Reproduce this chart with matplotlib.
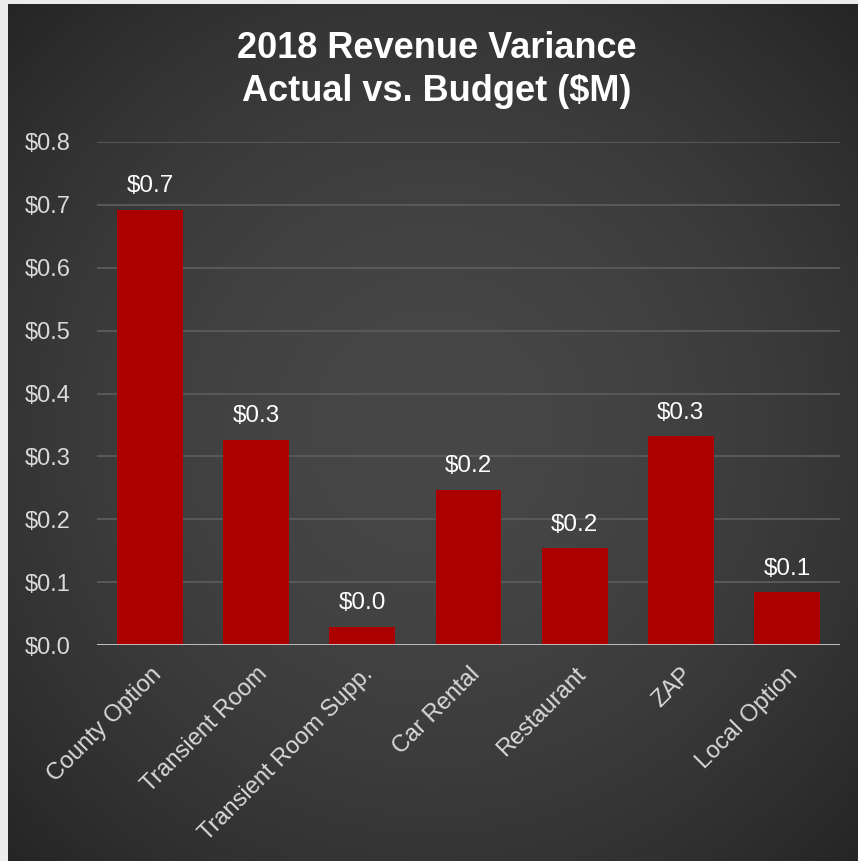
import numpy as np
import matplotlib
matplotlib.use("Agg")
import matplotlib.pyplot as plt
from matplotlib import font_manager

categories = ["County Option", "Transient Room", "Transient Room Supp.",
              "Car Rental", "Restaurant", "ZAP", "Local Option"]
variance = [0.692, 0.326, 0.029, 0.247, 0.154, 0.332, 0.084]
yticks = [0.0, 0.1, 0.2, 0.3, 0.4, 0.5, 0.6, 0.7, 0.8]

names = {f.name for f in font_manager.fontManager.ttflist}
body = "Liberation Sans" if "Liberation Sans" in names else "DejaVu Sans"
narrow = "Liberation Sans Narrow" if "Liberation Sans Narrow" in names else body
plt.rcParams["font.family"] = [body, "DejaVu Sans"]

W, H = 858, 861
fig = plt.figure(figsize=(W / 100, H / 100), dpi=100, facecolor="#ececec")

# dark radial-gradient background panel
bg = fig.add_axes([8 / W, 0, (W - 8) / W, (H - 4) / H])
yy, xx = np.mgrid[0:1:400j, 0:1:400j]
r = np.sqrt((xx - 0.5) ** 2 + (yy - 0.5) ** 2) / np.sqrt(0.5)
shade = (0x47 - (0x47 - 0x25) * r ** 1.8) / 255.0
bg.imshow(np.dstack([shade] * 3), aspect="auto", extent=[0, 1, 0, 1])
bg.set_axis_off()

ax = fig.add_axes([97 / W, (H - 645) / H, (840 - 97) / W, (645 - 142) / H])
ax.patch.set_alpha(0)
x = np.arange(len(categories))
bars = ax.bar(x, variance, width=0.62, color="#AB0000", zorder=3)

for xi, v in zip(x, variance):
    ax.text(xi, v + 0.02, f"${v:.1f}", ha="center", va="bottom",
            color="white", fontsize=17.5)

ax.set_xlim(-0.5, len(categories) - 0.5)
ax.set_ylim(0, 0.8)
ax.set_yticks(yticks)
ax.set_yticklabels([f"${t:.1f}" for t in yticks])
ax.yaxis.grid(True, color="#595959", lw=1.4, zorder=0)
ax.axhline(0, color="#c8c8c8", lw=2, zorder=4)
ax.set_xticks(x)
ax.set_xticklabels(categories, rotation=45, ha="right", rotation_mode="anchor")
ax.tick_params(axis="both", length=0, colors="#d9d9d9", labelsize=17)
ax.tick_params(axis="y", pad=19)
ax.tick_params(axis="x", pad=13)
for s in ax.spines.values():
    s.set_visible(False)

fig.text(437 / W, 1 - 70 / H, "2018 Revenue Variance\nActual vs. Budget ($M)",
         ha="center", va="center", color="white", fontsize=26,
         fontweight="bold", family=[narrow, body], linespacing=1.28)

fig.savefig("out.png", dpi=100, facecolor=fig.get_facecolor())
